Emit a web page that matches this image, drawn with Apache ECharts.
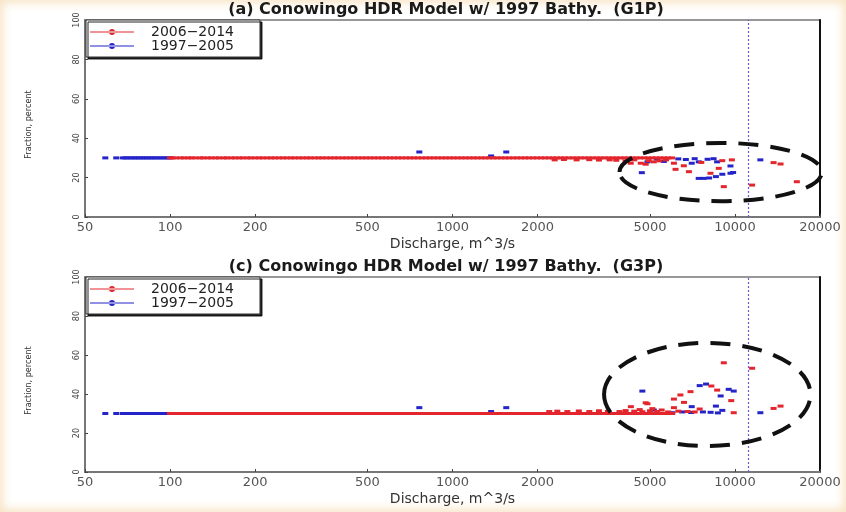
<!DOCTYPE html>
<html>
<head>
<meta charset="utf-8">
<script src="https://cdn.jsdelivr.net/npm/echarts@6/dist/echarts.min.js"></script>
<style>
  html, body { margin: 0; padding: 0; background: #fff; }
  #frame {
    width: 846px; height: 512px; position: relative; background: #fff;
    box-shadow: inset 0 0 10px 3px #f8e4c4;
  }
  #chart { position: absolute; left: 0; top: 0; width: 846px; height: 512px; }
</style>
</head>
<body>
<div id="frame"><div id="chart"></div></div>
<script>
// ---- data ---------------------------------------------------------------
const seriesNames = ['2006\u22122014', '1997\u22122005'];
const panelTitles = [
  '(a) Conowingo HDR Model w/ 1997 Bathy.  (G1P)',
  '(c) Conowingo HDR Model w/ 1997 Bathy.  (G3P)'
];
const xTicks = [50, 100, 200, 500, 1000, 2000, 5000, 10000, 20000];
const yTicks = [0, 20, 40, 60, 80, 100];
const floodQ = 11100;           // discharge marked by the dotted vertical line, m^3/s
const baseFraction = 30;        // fraction delivered at ordinary flows, percent

// daily discharges (m^3/s) that sit on the base fraction
const baseQ0614 = [100, 102, 105, 109, 112, 116, 119, 123, 128, 131, 136, 140, 145, 149, 155, 159,
  165, 170, 176, 181, 188, 193, 200, 207, 213, 221, 228, 235, 243, 251, 259, 268, 276, 286, 295,
  305, 314, 325, 336, 346, 358, 370, 382, 394, 408, 421, 435, 449, 464, 479, 495, 511, 528, 546,
  563, 582, 601, 621, 642, 662, 685, 707, 730, 754, 779, 805, 831, 858, 887, 916, 946, 977, 1009,
  1042, 1077, 1112, 1149, 1186, 1225, 1266, 1307, 1350, 1395, 1440, 1488, 1537, 1587, 1640, 1693,
  1749, 1807, 1866, 1928, 1991, 2057, 2124, 2194, 2267, 2341, 2418, 2498, 2580, 2665, 2753, 2843,
  2937, 3034, 3133, 3237, 3343, 3453, 3567, 3684, 3806, 3931, 4060, 4194, 4332, 4475, 4622, 4774,
  4931, 5093, 5261, 5434, 5613, 5798, 5990];
const baseQ9705 = [59, 64.5, 68, 69.5, 71, 72.8, 74.6, 76, 77.9, 79.5, 81.3, 83, 85.1, 86.8, 88.9,
  91, 93.2, 95.4, 97.7, 100];

// (a) G1P: [discharge, fraction] readings
const g1p0614 = [[2300, 29], [2480, 29.2], [2750, 29], [3050, 29.1], [3300, 28.9], [3600, 29],
  [3800, 28.8], [4100, 28.5], [4275, 27.3], [4400, 29], [4640, 27.3], [4830, 26.8], [4950, 28.6],
  [5160, 28], [5400, 28.5], [5700, 29], [6080, 27.3], [6160, 24.2], [6590, 26], [6870, 23],
  [7600, 27.7], [8190, 22.2], [8760, 24.7], [9015, 28.6], [9130, 15.4], [9750, 29], [11500, 16.2],
  [13700, 27.6], [14500, 26.9], [16560, 17.9]];
const g1p9705 = [[763, 33], [1370, 31], [1550, 33], [4680, 22.5], [4900, 28], [5300, 29.4],
  [5600, 28.2], [6300, 29.5], [6700, 29.2], [7030, 27.3], [7200, 29.6], [7440, 19.6], [7445, 28],
  [7750, 19.6], [8000, 29.3], [8100, 19.8], [8400, 29.6], [8560, 20.5], [8645, 28], [9020, 21.7],
  [9640, 25.9], [9640, 22.2], [9850, 22.6], [12300, 29]];

// (c) G3P: [discharge, fraction] readings
const g3p0614 = [[2200, 31], [2350, 31.2], [2550, 31], [2800, 31.3], [3050, 31], [3300, 31.4],
  [3550, 31.1], [3900, 31], [4100, 31.5], [4280, 33.5], [4400, 31.2], [4600, 32], [4700, 30.9],
  [4830, 35.5], [4900, 35], [5000, 31.4], [5100, 32.5], [5300, 31], [5500, 31.8], [5800, 30.8],
  [6080, 37.4], [6080, 33], [6300, 31.2], [6410, 39.5], [6600, 35.7], [6800, 31], [6960, 41.2],
  [7200, 30.8], [7500, 32.3], [8250, 44.1], [8650, 42], [9130, 56], [9700, 36.6], [9900, 30.4],
  [11500, 53.2], [13700, 32.6], [14500, 33.8]];
const g3p9705 = [[763, 33], [1370, 31], [1550, 33], [4700, 41.5], [5160, 31.8], [6000, 30.4],
  [6500, 30.8], [7000, 30.5], [7030, 33.5], [7500, 44.3], [7700, 30.8], [7900, 45.1], [8200, 30.6],
  [8560, 33.8], [8700, 30.3], [8900, 39], [9020, 31.6], [9500, 42.4], [9900, 41.5], [12300, 30.4]];

// highlighted high-flow regions: [[qLow, qHigh], [fLow, fHigh]]
const highFlowZones = [
  [[3900, 20300], [8, 37.6]],
  [[3440, 18500], [13.3, 66.2]]
];

// ---- chart --------------------------------------------------------------
const RED = '#e3262d';
const BLUE = '#2424c8';
const legendIcon = 'path://M0,2.5H44V3.5H0Z M19,3A3,3 0 1,0 25,3A3,3 0 1,0 19,3Z';
const panels = [
  { top: 20, height: 197, red: g1p0614, blue: g1p9705 },
  { top: 277, height: 195, red: g3p0614, blue: g3p9705 }
];

const chart = echarts.init(document.getElementById('chart'), null, { renderer: 'canvas' });

const grid = [], xAxis = [], yAxis = [], series = [], legend = [];
panels.forEach((p, i) => {
  grid.push({ left: 85, right: 26, top: p.top, height: p.height, show: true,
    borderColor: '#777', borderWidth: 1.5, backgroundColor: '#fff' });
  xAxis.push({
    type: 'log', logBase: 10, gridIndex: i, min: 50, max: 20000,
    name: 'Discharge, m^3/s', nameLocation: 'middle', nameGap: 20,
    nameTextStyle: { fontFamily: 'DejaVu Sans', fontSize: 14, color: '#333' },
    axisLine: { lineStyle: { color: '#777', width: 2 } },
    axisTick: { inside: true, length: 3, customValues: xTicks, lineStyle: { color: '#444' } },
    axisLabel: { customValues: xTicks, margin: 4, fontFamily: 'DejaVu Sans', fontSize: 13,
      color: '#555', formatter: v => String(Math.round(v)) },
    minorTick: { show: false }, splitLine: { show: false }
  });
  yAxis.push({
    type: 'value', gridIndex: i, min: 0, max: 100, interval: 20,
    name: 'Fraction, percent', nameLocation: 'middle', nameGap: 52, nameRotate: 90,
    nameTextStyle: { fontFamily: 'Liberation Sans Narrow, DejaVu Sans Condensed', fontSize: 9,
      color: '#333', padding: [0, 12, 0, 0] },
    axisLine: { lineStyle: { color: '#777', width: 2 } },
    axisTick: { inside: true, length: 3, lineStyle: { color: '#444' } },
    axisLabel: { rotate: 90, margin: 4, fontFamily: 'Liberation Sans Narrow, DejaVu Sans Condensed',
      fontSize: 9, color: '#444', customValues: yTicks },
    splitLine: { show: false }
  });
  // right-hand frame edge
  yAxis.push({
    type: 'value', gridIndex: i, position: 'right', min: 0, max: 100,
    axisLine: { show: true, lineStyle: { color: '#111', width: 2 } },
    axisTick: { show: false }, axisLabel: { show: false }, splitLine: { show: false }
  });
  const dot = { symbol: 'rect', symbolSize: [6, 3] };
  series.push({
    type: 'scatter', name: seriesNames[1], xAxisIndex: i, yAxisIndex: 2 * i, ...dot,
    itemStyle: { color: BLUE, opacity: 1 }, z: 2,
    data: baseQ9705.map(q => [q, baseFraction]).concat(p.blue)
  });
  series.push({
    type: 'scatter', name: seriesNames[0], xAxisIndex: i, yAxisIndex: 2 * i, ...dot,
    itemStyle: { color: RED, opacity: 1 }, z: 3,
    data: baseQ0614.map(q => [q, baseFraction]).concat(p.red),
    markLine: {
      silent: true, symbol: ['none', 'none'], label: { show: false },
      lineStyle: { type: [2, 2], color: '#6a58d6', width: 1.2 },
      data: [{ xAxis: floodQ }]
    }
  });
  legend.push({
    left: 86, top: p.top, orient: 'vertical', selectedMode: false,
    data: [{ name: seriesNames[0], icon: legendIcon }, { name: seriesNames[1], icon: legendIcon }],
    itemWidth: 44, itemHeight: 6, itemGap: 0,
    padding: [5, 26, 4, 4],
    backgroundColor: '#fff', borderColor: '#333', borderWidth: 1,
    shadowColor: 'rgba(0,0,0,0.85)', shadowOffsetX: 2, shadowOffsetY: 2, shadowBlur: 0,
    textStyle: { fontFamily: 'DejaVu Sans', fontSize: 14, color: '#222', lineHeight: 11,
      padding: [0, 0, 0, 12] }
  });
});

chart.setOption({ animation: false, backgroundColor: 'transparent', grid, xAxis, yAxis, series, legend });

// titles and the dashed ellipses outlining the high-flow scatter
const graphic = [];
panels.forEach((p, i) => {
  graphic.push({
    type: 'text', x: 446, y: p.top - 10,
    style: { text: panelTitles[i], textAlign: 'center', textVerticalAlign: 'middle',
      font: 'bold 16px "DejaVu Sans"', fill: '#1a1a1a' }
  });
  const z = highFlowZones[i];
  const a = chart.convertToPixel({ xAxisIndex: i, yAxisIndex: 2 * i }, [z[0][0], z[1][1]]);
  const b = chart.convertToPixel({ xAxisIndex: i, yAxisIndex: 2 * i }, [z[0][1], z[1][0]]);
  graphic.push({
    type: 'ellipse', z: 10, silent: true,
    shape: { cx: (a[0] + b[0]) / 2, cy: (a[1] + b[1]) / 2, rx: (b[0] - a[0]) / 2, ry: (b[1] - a[1]) / 2 },
    style: { fill: 'none', stroke: '#111', lineWidth: 4, lineDash: [20, 12] }
  });
});
chart.setOption({ graphic });
</script>
</body>
</html>
